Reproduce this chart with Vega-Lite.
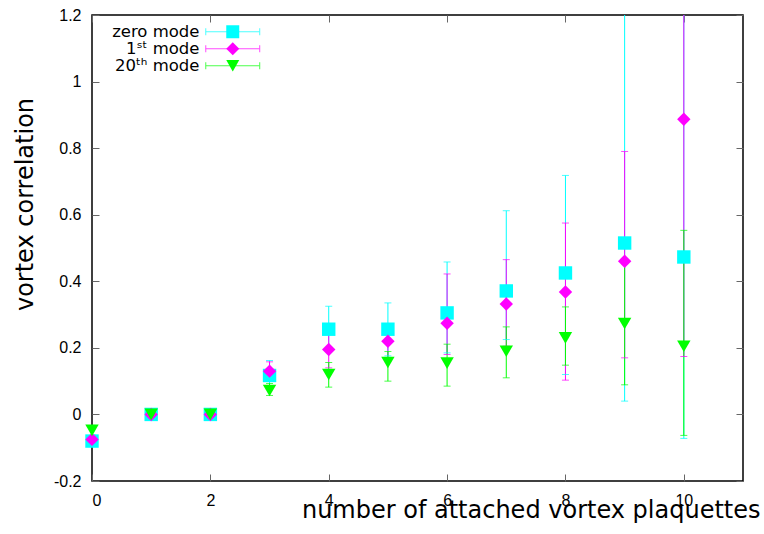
{
  "$schema": "https://vega.github.io/schema/vega-lite/v6.json",
  "width": 651,
  "height": 466,
  "autosize": {"type": "none"},
  "padding": {"left": 92, "top": 15, "right": 21, "bottom": 53},
  "background": "white",
  "config": {
    "view": {"stroke": "#000000", "strokeWidth": 1.5},
    "axis": {
      "domain": false,
      "grid": false,
      "tickColor": "#666666",
      "tickSize": -7,
      "tickWidth": 1,
      "labelFont": "Liberation Sans",
      "labelFontSize": 16,
      "labelColor": "#000000",
      "titleFont": "DejaVu Sans",
      "titleFontSize": 24,
      "titleFontWeight": "normal",
      "titleColor": "#000000"
    },
    "legend": {"padding": 0, "titleFontSize": 0}
  },
  "data": {
    "values": [
      {"x": 0, "mode": "zero mode", "m2": "zero mode", "y": -0.08, "lo": -0.09, "hi": -0.07},
      {"x": 1, "mode": "zero mode", "m2": "zero mode", "y": 0, "lo": 0, "hi": 0},
      {"x": 2, "mode": "zero mode", "m2": "zero mode", "y": 0, "lo": 0, "hi": 0},
      {"x": 3, "mode": "zero mode", "m2": "zero mode", "y": 0.117, "lo": 0.08, "hi": 0.162},
      {"x": 4, "mode": "zero mode", "m2": "zero mode", "y": 0.256, "lo": 0.19, "hi": 0.325},
      {"x": 5, "mode": "zero mode", "m2": "zero mode", "y": 0.256, "lo": 0.176, "hi": 0.335},
      {"x": 6, "mode": "zero mode", "m2": "zero mode", "y": 0.305, "lo": 0.185, "hi": 0.458},
      {"x": 7, "mode": "zero mode", "m2": "zero mode", "y": 0.371, "lo": 0.225, "hi": 0.612},
      {"x": 8, "mode": "zero mode", "m2": "zero mode", "y": 0.425, "lo": 0.12, "hi": 0.718},
      {"x": 9, "mode": "zero mode", "m2": "zero mode", "y": 0.515, "lo": 0.04, "hi": 1.35},
      {"x": 10, "mode": "zero mode", "m2": "zero mode", "y": 0.473, "lo": -0.072, "hi": 1.35},
      {"x": 0, "mode": "1ˢᵗ mode", "m2": "1ˢᵗ mode", "y": -0.075, "lo": -0.085, "hi": -0.065},
      {"x": 1, "mode": "1ˢᵗ mode", "m2": "1ˢᵗ mode", "y": 0, "lo": 0, "hi": 0},
      {"x": 2, "mode": "1ˢᵗ mode", "m2": "1ˢᵗ mode", "y": 0, "lo": 0, "hi": 0},
      {"x": 3, "mode": "1ˢᵗ mode", "m2": "1ˢᵗ mode", "y": 0.13, "lo": 0.11, "hi": 0.158},
      {"x": 4, "mode": "1ˢᵗ mode", "m2": "1ˢᵗ mode", "y": 0.195, "lo": 0.14, "hi": 0.246},
      {"x": 5, "mode": "1ˢᵗ mode", "m2": "1ˢᵗ mode", "y": 0.22, "lo": 0.17, "hi": 0.273},
      {"x": 6, "mode": "1ˢᵗ mode", "m2": "1ˢᵗ mode", "y": 0.274, "lo": 0.18, "hi": 0.422},
      {"x": 7, "mode": "1ˢᵗ mode", "m2": "1ˢᵗ mode", "y": 0.332, "lo": 0.205, "hi": 0.465},
      {"x": 8, "mode": "1ˢᵗ mode", "m2": "1ˢᵗ mode", "y": 0.368, "lo": 0.103, "hi": 0.575},
      {"x": 9, "mode": "1ˢᵗ mode", "m2": "1ˢᵗ mode", "y": 0.46, "lo": 0.17, "hi": 0.79},
      {"x": 10, "mode": "1ˢᵗ mode", "m2": "1ˢᵗ mode", "y": 0.887, "lo": 0.174, "hi": 1.6},
      {"x": 0, "mode": "20ᵗʰ mode", "m2": "20ᵗʰ mode", "y": -0.048, "lo": -0.062, "hi": -0.033},
      {"x": 1, "mode": "20ᵗʰ mode", "m2": "20ᵗʰ mode", "y": 0, "lo": 0, "hi": 0},
      {"x": 2, "mode": "20ᵗʰ mode", "m2": "20ᵗʰ mode", "y": 0, "lo": 0, "hi": 0},
      {"x": 3, "mode": "20ᵗʰ mode", "m2": "20ᵗʰ mode", "y": 0.072, "lo": 0.057, "hi": 0.093},
      {"x": 4, "mode": "20ᵗʰ mode", "m2": "20ᵗʰ mode", "y": 0.12, "lo": 0.082, "hi": 0.156},
      {"x": 5, "mode": "20ᵗʰ mode", "m2": "20ᵗʰ mode", "y": 0.156, "lo": 0.1, "hi": 0.189},
      {"x": 6, "mode": "20ᵗʰ mode", "m2": "20ᵗʰ mode", "y": 0.154, "lo": 0.085, "hi": 0.211},
      {"x": 7, "mode": "20ᵗʰ mode", "m2": "20ᵗʰ mode", "y": 0.19, "lo": 0.11, "hi": 0.263},
      {"x": 8, "mode": "20ᵗʰ mode", "m2": "20ᵗʰ mode", "y": 0.23, "lo": 0.148, "hi": 0.323},
      {"x": 9, "mode": "20ᵗʰ mode", "m2": "20ᵗʰ mode", "y": 0.273, "lo": 0.089, "hi": 0.453},
      {"x": 10, "mode": "20ᵗʰ mode", "m2": "20ᵗʰ mode", "y": 0.205, "lo": -0.063, "hi": 0.553}
    ]
  },
  "resolve": {"axis": {"x": "independent", "y": "independent"}},
  "layer": [
    {
      "mark": {"type": "rule", "clip": true, "strokeWidth": 1},
      "encoding": {
        "x": {"field": "x", "type": "quantitative", "scale": {"domain": [0, 11], "nice": false, "zero": false},
          "axis": {"orient": "bottom", "values": [0, 2, 4, 6, 8, 10], "labelPadding": 18, "title": "number of attached vortex plaquettes", "titleAlign": "right", "titleBaseline": "alphabetic", "titleX": 668, "titleY": 36}},
        "y": {"field": "lo", "type": "quantitative", "scale": {"domain": [-0.2, 1.2], "nice": false, "zero": false},
          "axis": {"orient": "left", "values": [-0.2, 0, 0.2, 0.4, 0.6, 0.8, 1, 1.2], "labelExpr": "datum.value < 0 ? '-' + format(-datum.value, '~g') : format(datum.value, '~g')", "labelPadding": 18, "title": "vortex correlation", "titleAngle": -90, "titleAlign": "center", "titleBaseline": "alphabetic", "titleX": -60, "titleY": 189}},
        "y2": {"field": "hi"},
        "stroke": {"field": "m2", "type": "nominal", "sort": ["zero mode", "1ˢᵗ mode", "20ᵗʰ mode"],
          "scale": {"range": ["#00ffff", "#ff00ff", "#00ff00"]},
          "legend": {"orient": "none", "legendX": 132.5, "legendY": 8.5, "title": null, "symbolType": "M-4.15,0H4.15M-4.15,-0.54V0.54M4.15,-0.54V0.54", "symbolSize": 169, "symbolStrokeWidth": 1, "symbolFillColor": "transparent", "labelAlign": "right", "labelOffset": -41.5, "labelFont": "DejaVu Sans", "labelFontSize": 16.5, "labelColor": "#000000", "rowPadding": 0}}
      }
    },
    {
      "mark": {"type": "point", "shape": "stroke", "size": 49, "strokeWidth": 1, "clip": true},
      "encoding": {
        "x": {"field": "x", "type": "quantitative", "axis": null},
        "y": {"field": "lo", "type": "quantitative", "axis": null},
        "stroke": {"field": "m2", "type": "nominal", "sort": ["zero mode", "1ˢᵗ mode", "20ᵗʰ mode"]}
      }
    },
    {
      "mark": {"type": "point", "shape": "stroke", "size": 49, "strokeWidth": 1, "clip": true},
      "encoding": {
        "x": {"field": "x", "type": "quantitative", "axis": null},
        "y": {"field": "hi", "type": "quantitative", "axis": null},
        "stroke": {"field": "m2", "type": "nominal", "sort": ["zero mode", "1ˢᵗ mode", "20ᵗʰ mode"]}
      }
    },
    {
      "mark": {"type": "point", "filled": true, "size": 180, "opacity": 1, "strokeWidth": 0},
      "encoding": {
        "x": {"field": "x", "type": "quantitative", "axis": {"orient": "top", "values": [0, 2, 4, 6, 8, 10], "labels": false, "title": null}},
        "y": {"field": "y", "type": "quantitative", "axis": {"orient": "right", "values": [-0.2, 0, 0.2, 0.4, 0.6, 0.8, 1, 1.2], "labels": false, "title": null}},
        "fill": {"field": "mode", "type": "nominal",
          "scale": {"domain": ["zero mode", "1ˢᵗ mode", "20ᵗʰ mode"], "range": ["#00ffff", "#ff00ff", "#00ff00"]},
          "legend": {"orient": "none", "legendX": 132.5, "legendY": 8.5, "title": null, "symbolSize": 169, "symbolStrokeWidth": 0, "labelOpacity": 0, "labelFont": "DejaVu Sans", "labelFontSize": 16.5, "rowPadding": 0}},
        "shape": {"field": "mode", "type": "nominal",
          "scale": {"domain": ["zero mode", "1ˢᵗ mode", "20ᵗʰ mode"], "range": ["square", "diamond", "triangle-down"]},
          "legend": {"orient": "none", "legendX": 132.5, "legendY": 8.5, "title": null, "symbolSize": 169, "symbolStrokeWidth": 0, "labelOpacity": 0, "labelFont": "DejaVu Sans", "labelFontSize": 16.5, "rowPadding": 0}}
      }
    }
  ]
}
